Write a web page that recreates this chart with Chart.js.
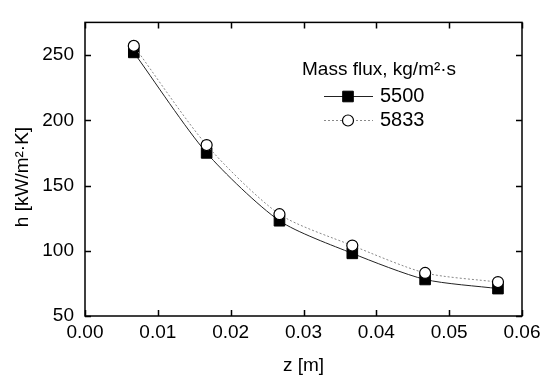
<!DOCTYPE html>
<html>
<head>
<meta charset="utf-8">
<script src="https://cdn.jsdelivr.net/npm/chart.js@4/dist/chart.umd.min.js"></script>
<style>
  body { margin: 0; background: #fff; }
  #wrap { width: 551px; height: 381px; }
</style>
</head>
<body>
<div id="wrap"><canvas id="myChart" width="551" height="381"></canvas></div>
<script>
// DATA
const zValues = [0.0067, 0.0167, 0.0267, 0.0367, 0.0467, 0.0567];
const h5500 = [252, 175, 123, 98, 78, 71];
const h5833 = [257, 181, 128, 104, 83, 76];
const xTicks = [0, 0.01, 0.02, 0.03, 0.04, 0.05, 0.06];
const yTicks = [50, 100, 150, 200, 250];
const seriesNames = ['5500', '5833'];
const legendTitle = 'Mass flux, kg/m²·s';
const xTitle = 'z [m]';
const yTitle = 'h [kW/m²·K]';

const FONT = '"Liberation Sans", Arial, sans-serif';

function toPoints(ys) {
    return zValues.map((z, i) => ({ x: z, y: ys[i] }));
}

// series styles, reused by the legend
const styles = [
    { line: '#222', dash: [], pointStyle: 'rect', radius: 7.5, fill: '#000', border: '#000', borderWidth: 1 },
    { line: '#888', dash: [2, 2], pointStyle: 'circle', radius: 5.5, fill: '#fff', border: '#000', borderWidth: 1.2 }
];

// FRAME + INWARD TICKS + Y TITLE
const frameTicks = {
    id: 'frameTicks',
    afterDraw(chart) {
        const ctx = chart.ctx;
        const a = chart.chartArea;
        const len = 6;
        ctx.save();
        ctx.strokeStyle = '#000';
        ctx.lineWidth = 1.5;
        ctx.strokeRect(a.left, a.top, a.right - a.left, a.bottom - a.top);
        ctx.beginPath();
        chart.scales.x.ticks.forEach(t => {
            const px = Math.round(chart.scales.x.getPixelForValue(t.value)) + 0.5;
            ctx.moveTo(px, a.bottom); ctx.lineTo(px, a.bottom - len);
            ctx.moveTo(px, a.top); ctx.lineTo(px, a.top + len);
        });
        chart.scales.y.ticks.forEach(t => {
            const py = Math.round(chart.scales.y.getPixelForValue(t.value)) + 0.5;
            ctx.moveTo(a.left, py); ctx.lineTo(a.left + len, py);
            ctx.moveTo(a.right, py); ctx.lineTo(a.right - len, py);
        });
        ctx.stroke();

        // y axis title
        ctx.fillStyle = '#000';
        ctx.font = '19px ' + FONT;
        ctx.textAlign = 'center';
        ctx.textBaseline = 'middle';
        ctx.translate(23, 177);
        ctx.rotate(-Math.PI / 2);
        ctx.fillText(yTitle, 0, 0);
        ctx.restore();
    }
};

// LEGEND WITH LINE SAMPLES
const lineLegend = {
    id: 'lineLegend',
    afterDraw(chart) {
        const ctx = chart.ctx;
        ctx.save();
        ctx.fillStyle = '#000';
        ctx.font = '19px ' + FONT;
        ctx.textAlign = 'left';
        ctx.textBaseline = 'middle';
        ctx.fillText(legendTitle, 302, 70);
        ctx.font = '20px ' + FONT;
        seriesNames.forEach((name, i) => {
            const s = styles[i];
            const y = 96 + i * 24;
            ctx.strokeStyle = s.line;
            ctx.lineWidth = 1;
            ctx.setLineDash(s.dash);
            ctx.beginPath();
            ctx.moveTo(324, y + 0.5);
            ctx.lineTo(373, y + 0.5);
            ctx.stroke();
            ctx.setLineDash([]);
            ctx.fillStyle = s.fill;
            ctx.strokeStyle = s.border;
            ctx.lineWidth = s.borderWidth;
            Chart.helpers.drawPoint(ctx, { pointStyle: s.pointStyle, radius: s.radius, rotation: 0, borderWidth: s.borderWidth }, 348, y + 0.5);
            ctx.fillStyle = '#000';
            ctx.fillText(name, 380, y);
        });
        ctx.restore();
    }
};

function makeDataset(label, ys, s, order) {
    return {
        label: label,
        data: toPoints(ys),
        order: order,
        borderColor: s.line,
        borderWidth: 1,
        borderDash: s.dash,
        tension: 0.25,
        fill: false,
        pointStyle: s.pointStyle,
        pointRadius: s.radius,
        pointBackgroundColor: s.fill,
        pointBorderColor: s.border,
        pointBorderWidth: s.borderWidth
    };
}

// DRAWING THE CHART
const ctx = document.getElementById('myChart').getContext('2d');
const myChart = new Chart(ctx, {
    type: 'line',
    data: {
        datasets: [
            makeDataset(seriesNames[0], h5500, styles[0], 1),
            makeDataset(seriesNames[1], h5833, styles[1], 0)
        ]
    },
    options: {
        responsive: false,
        animation: false,
        devicePixelRatio: 1,
        layout: { padding: { top: 9, right: 29, left: 0, bottom: 0 } },
        plugins: { legend: { display: false }, tooltip: { enabled: false } },
        scales: {
            x: {
                type: 'linear',
                min: 0,
                max: 0.06,
                afterBuildTicks: scale => { scale.ticks = xTicks.map(v => ({ value: v })); },
                afterFit: scale => { scale.height = 65; },
                grid: { display: false, drawTicks: false },
                border: { display: false },
                ticks: {
                    color: '#000',
                    padding: 5,
                    maxRotation: 0,
                    font: { family: FONT, size: 19 },
                    callback: v => v.toFixed(2)
                },
                title: {
                    display: true,
                    text: xTitle,
                    color: '#000',
                    font: { family: FONT, size: 19 },
                    padding: { top: 0, bottom: 4 }
                }
            },
            y: {
                type: 'linear',
                min: 50,
                max: 275,
                afterBuildTicks: scale => { scale.ticks = yTicks.map(v => ({ value: v })); },
                afterFit: scale => { scale.width = 85; },
                grid: { display: false, drawTicks: false },
                border: { display: false },
                ticks: {
                    color: '#000',
                    padding: 11,
                    font: { family: FONT, size: 19 }
                }
            }
        }
    },
    plugins: [frameTicks, lineLegend]
});
</script>
</body>
</html>
